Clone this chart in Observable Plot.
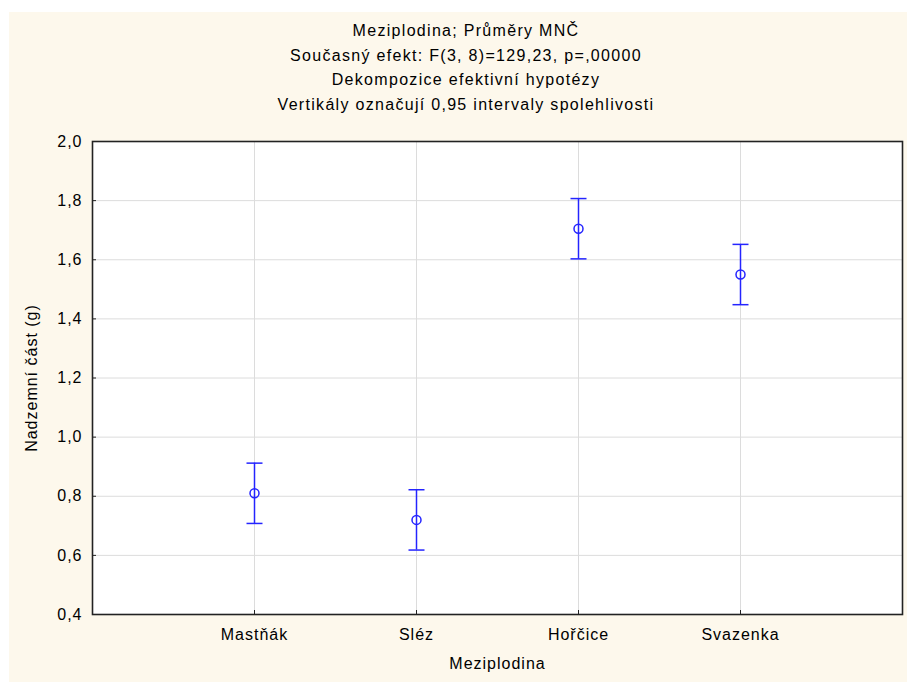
<!DOCTYPE html>
<html>
<head>
<meta charset="utf-8">
<script src="https://cdn.jsdelivr.net/npm/d3@7"></script>
<script src="https://cdn.jsdelivr.net/npm/@observablehq/plot@0.6"></script>
<style>
  html, body { margin: 0; padding: 0; background: #ffffff; }
  body { width: 907px; height: 682px; position: relative; overflow: hidden; font-family: Arial, "Liberation Sans", sans-serif; }
  #bg { position: absolute; left: 9px; top: 12px; width: 898px; height: 670px; background: #fdf8ec; }
  #titles { position: absolute; left: 0; top: 19px; width: 932px; text-align: center; font-size: 16px; letter-spacing: 1.3px; line-height: 24.5px; color: #000; }
  #chart { position: absolute; left: 0; top: 116px; }
  #chart svg text { letter-spacing: 1px; }
</style>
</head>
<body>
<div id="bg"></div>
<div id="titles"></div>
<div id="chart"></div>
<script>
const titleLines = [
  "Meziplodina; Průměry MNČ",
  "Současný efekt: F(3, 8)=129,23, p=,00000",
  "Dekompozice efektivní hypotézy",
  "Vertikály označují 0,95 intervaly spolehlivosti"
];
const categories = ["Mastňák", "Sléz", "Hořčice", "Svazenka"];
const means = [0.81, 0.72, 1.705, 1.55];
const lower = [0.708, 0.618, 1.603, 1.448];
const upper = [0.912, 0.822, 1.807, 1.652];
const yTicks = [0.4, 0.6, 0.8, 1.0, 1.2, 1.4, 1.6, 1.8, 2.0];
const xLabel = "Meziplodina";
const yLabel = "Nadzemní část (g)";

const data = categories.map((c, i) => ({cat: c, mean: means[i], lo: lower[i], hi: upper[i]}));
const fmt = d => d.toFixed(1).replace(".", ",");
const blue = "#2424ff";

// horizontal cap symbol: half-length equals r
const capSymbol = {
  draw(ctx, size) {
    const r = Math.sqrt(size / Math.PI);
    ctx.moveTo(-r, 0);
    ctx.lineTo(r, 0);
  }
};

const t = document.getElementById("titles");
titleLines.forEach(s => { const d = document.createElement("div"); d.textContent = s; t.appendChild(d); });

const chart = Plot.plot({
  width: 907,
  height: 566,
  marginTop: 25,
  marginBottom: 68,
  marginLeft: 92,
  marginRight: 5,
  style: {background: "transparent", fontFamily: "Arial, 'Liberation Sans', sans-serif", fontSize: "16px", color: "#000"},
  x: {type: "point", domain: categories, padding: 1, label: null},
  y: {domain: [0.4, 2.0], ticks: yTicks, label: null, tickFormat: fmt},
  marks: [
    Plot.frame({fill: "white", stroke: null}),
    Plot.gridY(yTicks, {stroke: "#dcdcdc", strokeOpacity: 1}),
    Plot.gridX(categories, {stroke: "#dcdcdc", strokeOpacity: 1}),
    Plot.axisY(yTicks, {tickSize: 4, dx: 4, tickFormat: () => "", stroke: "#222", label: null}),
    Plot.axisY(yTicks, {tickSize: 0, tickPadding: 10, tickFormat: fmt, label: null, fill: "#000"}),
    Plot.axisX(categories, {tickSize: 4, dy: -4, tickFormat: () => "", stroke: "#222", label: null}),
    Plot.axisX(categories, {tickSize: 0, tickPadding: 14, label: null, fill: "#000"}),
    Plot.frame({stroke: "#222", strokeWidth: 1.6}),
    Plot.ruleX(data, {x: "cat", y1: "lo", y2: "hi", stroke: blue, strokeWidth: 1.5}),
    Plot.dot(data, {x: "cat", y: "lo", r: 8, symbol: capSymbol, stroke: blue, strokeWidth: 1.5, fill: "none"}),
    Plot.dot(data, {x: "cat", y: "hi", r: 8, symbol: capSymbol, stroke: blue, strokeWidth: 1.5, fill: "none"}),
    Plot.dot(data, {x: "cat", y: "mean", r: 4.5, stroke: blue, strokeWidth: 1.5, fill: "none"}),
    Plot.text([yLabel], {frameAnchor: "left", dx: -61, rotate: -90, textAnchor: "middle", fill: "#000"}),
    Plot.text([xLabel], {frameAnchor: "bottom", dy: 54, textAnchor: "middle", fill: "#000"})
  ]
});
document.getElementById("chart").appendChild(chart);
</script>
</body>
</html>
